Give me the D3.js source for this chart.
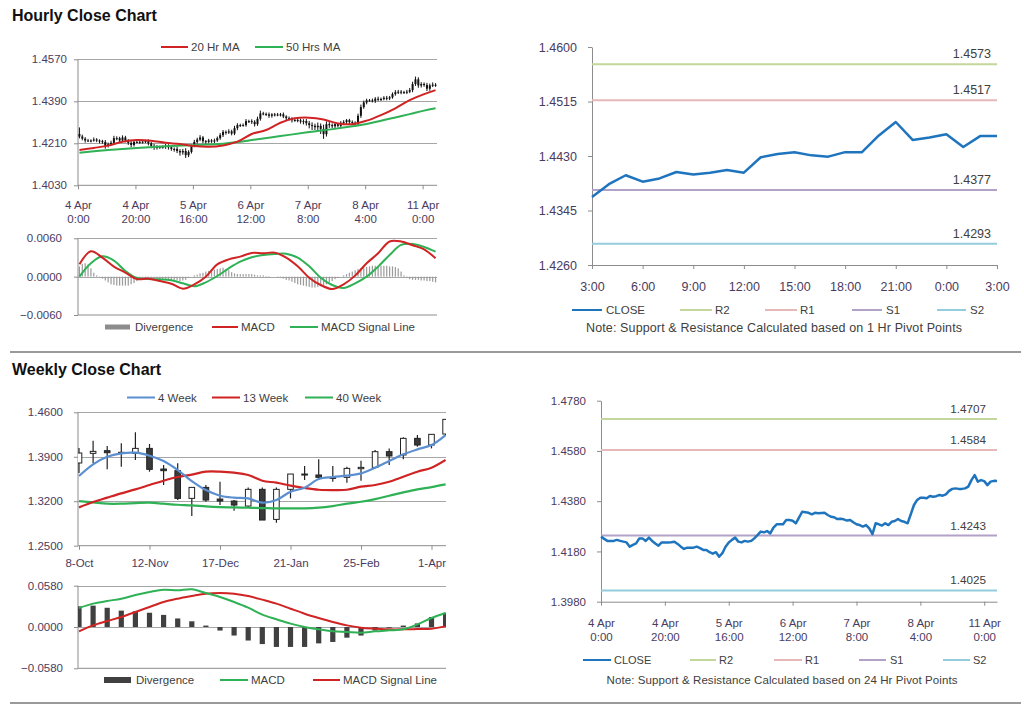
<!DOCTYPE html>
<html><head><meta charset="utf-8">
<script src="https://cdn.jsdelivr.net/npm/d3@7"></script>
<style>
body{margin:0;background:#fff;}
svg{display:block;}
</style></head><body>
<svg id="c" width="1024" height="705"></svg>
<script>
// ---------------- DATA ----------------
// Hourly closes (4 Apr 0:00 ... 11 Apr 4:00), shared by hourly candle chart and 24hr pivot chart
const hourlyClose = [
1.4239,1.4230,1.4222,1.4222,1.4222,1.4226,1.4222,1.4219,1.4216,1.4199,
1.4206,1.4212,1.4232,1.4232,1.4222,1.4235,1.4222,1.4212,1.4203,1.4216,
1.4216,1.4216,1.4217,1.4219,1.4210,1.4199,1.4190,1.4195,1.4195,1.4195,
1.4199,1.4193,1.4186,1.4186,1.4177,1.4171,1.4177,1.4159,1.4173,1.4199,
1.4216,1.4226,1.4235,1.4219,1.4216,1.4222,1.4219,1.4222,1.4232,1.4245,
1.4259,1.4256,1.4261,1.4252,1.4275,1.4288,1.4288,1.4288,1.4305,1.4305,
1.4302,1.4292,1.4315,1.4338,1.4336,1.4334,1.4328,1.4334,1.4332,1.4333,
1.4334,1.4325,1.4318,1.4316,1.4309,1.4310,1.4308,1.4303,1.4305,1.4296,
1.4288,1.4285,1.4279,1.4285,1.4272,1.4249,1.4292,1.4288,1.4283,1.4292,
1.4285,1.4298,1.4301,1.4309,1.4301,1.4298,1.4292,1.4328,1.4365,1.4385,
1.4394,1.4394,1.4392,1.4401,1.4398,1.4400,1.4405,1.4402,1.4407,1.4421,
1.4429,1.4431,1.4429,1.4429,1.4431,1.4438,1.4464,1.4484,1.4458,1.4464,
1.4460,1.4444,1.4458,1.4461,1.4460];
const hourlyFirstOpen = 1.4250;
// wick extensions beyond candle body, in pips
const hourlyHighPips = [28,8,6,7,5,9,6,5,6,8,7,9,10,8,6,9,7,6,8,5,6,5,7,6,8,6,9,7,5,6,8,7,9,6,10,8,9,12,7,6,9,8,10,6,5,7,6,8,7,9,8,6,9,7,10,8,6,7,9,6,8,7,9,12,7,6,8,5,6,7,6,8,5,7,6,9,6,7,8,9,10,12,9,14,10,18,12,9,7,8,6,7,8,5,6,7,6,9,11,8,7,6,8,7,9,6,7,8,6,7,9,8,7,6,8,9,10,12,9,8,7,9,8,10,7];
const hourlyLowPips = [8,7,9,6,8,5,7,9,8,12,7,6,8,9,7,6,8,9,10,7,6,8,7,6,9,10,8,7,9,8,9,10,8,12,9,14,10,12,8,7,6,8,7,9,8,6,7,8,6,7,8,9,6,8,7,9,8,6,7,8,9,10,7,8,6,7,9,8,7,6,8,7,9,8,10,7,8,9,12,10,14,18,12,15,22,20,10,12,9,8,7,9,8,10,9,8,7,8,9,7,8,6,7,9,8,7,6,8,7,6,7,8,9,7,8,6,9,8,10,9,8,10,9,7,8];
const hourTickIdx = [0,20,40,60,80,100,120];
const hourTickDay = ["4 Apr","4 Apr","5 Apr","6 Apr","7 Apr","8 Apr","11 Apr"];
const hourTickTime = ["0:00","20:00","16:00","12:00","8:00","4:00","0:00"];

// Moving averages (sampled hours)
const maIdx = [0,5,10,15,20,25,30,35,40,45,50,55,60,65,70,75,80,85,90,95,100,105,110,115,120,124];
const ma20 = [1.4181,1.4190,1.4200,1.4217,1.4224,1.4221,1.4212,1.4207,1.4198,1.4195,1.4201,1.4217,1.4250,1.4267,1.4298,1.4317,1.4320,1.4312,1.4295,1.4292,1.4307,1.4331,1.4360,1.4395,1.4421,1.4438];
const ma50Idx = [0,10,20,30,40,50,55,60,70,80,90,100,105,110,115,120,124];
const ma50 = [1.4170,1.4181,1.4190,1.4197,1.4202,1.4208,1.4215,1.4224,1.4241,1.4258,1.4274,1.4293,1.4307,1.4321,1.4335,1.4350,1.4360];

// Hourly MACD (every 4 hours)
const macdHIdx = [0,4,8,12,16,20,24,28,32,36,40,44,48,52,56,60,64,68,72,76,80,84,88,92,96,100,104,108,112,116,120,124];
const macdH = [0.00193,0.00397,0.00298,0.00157,0.00063,-0.00037,-0.00031,-0.00068,-0.00110,-0.00188,-0.00120,0.00000,0.00193,0.00271,0.00313,0.00371,0.00365,0.00376,0.00298,0.00162,-0.00016,-0.00131,-0.00193,-0.00120,0.00016,0.00209,0.00365,0.00550,0.00550,0.00491,0.00428,0.00287];
const signalH = [0.00000,0.00209,0.00318,0.00251,0.00089,-0.00021,-0.00037,-0.00042,-0.00057,-0.00104,-0.00151,-0.00089,0.00010,0.00131,0.00235,0.00303,0.00339,0.00355,0.00360,0.00298,0.00162,-0.00016,-0.00131,-0.00177,-0.00104,0.00000,0.00157,0.00339,0.00496,0.00512,0.00465,0.00392];
// hourly divergence, in units of 0.0001
const divergenceH = [16,20,21,19,13,6,2,-1,-3,-6,-9,-12,-13,-14,-14,-14,-14,-14,-12,-10,-7,-4,-2,-2,-2,-3,-3,-3,-4,-4,-4,-5,-5,-5,-6,-7,-6,-5,-2,0,2,3,5,6,8,9,10,11,12,13,14,12,10,7,5,4,4,4,4,4,4,3,2,2,2,1,1,0,0,-1,-2,-3,-5,-6,-8,-10,-12,-13,-14,-15,-16,-17,-17,-16,-15,-13,-12,-9,-7,-4,-2,0,2,4,6,8,10,12,13,14,15,16,17,17,17,17,17,17,16,16,15,13,8,2,-2,-4,-5,-5,-5,-6,-6,-7,-7,-8,-9];

// 1 Hr pivot chart (last 24 hours)
const pivotHourLabels = ["3:00","6:00","9:00","12:00","15:00","18:00","21:00","0:00","3:00"];
const pivotHourClose = [1.4366,1.4386,1.4400,1.4390,1.4395,1.4405,1.4401,1.4404,1.4408,1.4404,1.4428,1.4433,1.4436,1.4431,1.4429,1.4436,1.4436,1.4462,1.4483,1.4455,1.4459,1.4464,1.4444,1.4461,1.4461];
const levels1h = {R2:1.4573, R1:1.4517, S1:1.4377, S2:1.4293};
const levels24h = {R2:1.4707, R1:1.4584, S1:1.4243, S2:1.4025};

// Weekly
const weekTickIdx = [0,5,10,15,20,25];
const weekTickLabels = ["8-Oct","12-Nov","17-Dec","21-Jan","25-Feb","1-Apr"];
const weekOpen  = [1.3802,1.3954,1.3996,1.3970,1.3954,1.4032,1.3707,1.3681,1.3245,1.3418,1.3234,1.3203,1.3124,1.3387,1.2914,1.3387,1.3620,1.3613,1.3576,1.3576,1.3712,1.3733,1.3980,1.3928,1.4190,1.4085,1.4258];
const weekClose = [1.3959,1.3985,1.3964,1.3964,1.4032,1.3702,1.3681,1.3245,1.3418,1.3219,1.3203,1.3140,1.3387,1.2904,1.3387,1.3628,1.3628,1.3576,1.3560,1.3717,1.3733,1.3980,1.3912,1.4190,1.4085,1.4253,1.4489];
const weekHigh  = [1.4038,1.4153,1.4069,1.4111,1.4284,1.4101,1.3770,1.3796,1.3418,1.3455,1.3507,1.3219,1.3418,1.3418,1.3418,1.3628,1.3754,1.3859,1.3754,1.3744,1.3838,1.4006,1.4032,1.4206,1.4242,1.4253,1.4489];
const weekLow   = [1.3644,1.3796,1.3702,1.3744,1.3849,1.3665,1.3455,1.3219,1.2967,1.3193,1.3140,1.3051,1.3103,1.2904,1.2862,1.3245,1.3534,1.3534,1.3508,1.3492,1.3524,1.3717,1.3770,1.3859,1.4059,1.4032,1.4243];
const ma4w  = [1.3597,1.3781,1.3901,1.3954,1.3964,1.3917,1.3833,1.3691,1.3518,1.3376,1.3287,1.3256,1.3245,1.3177,1.3219,1.3350,1.3413,1.3550,1.3581,1.3602,1.3639,1.3728,1.3833,1.3938,1.4017,1.4085,1.4242];
const ma13w = [1.3103,1.3187,1.3256,1.3324,1.3387,1.3455,1.3523,1.3581,1.3618,1.3665,1.3665,1.3649,1.3612,1.3523,1.3492,1.3445,1.3408,1.3381,1.3376,1.3381,1.3429,1.3455,1.3507,1.3586,1.3665,1.3728,1.3849];
const ma40w = [1.3203,1.3182,1.3161,1.3161,1.3171,1.3177,1.3161,1.3145,1.3135,1.3119,1.3108,1.3103,1.3098,1.3093,1.3087,1.3087,1.3087,1.3098,1.3124,1.3161,1.3192,1.3234,1.3287,1.3339,1.3387,1.3423,1.3465];
const divergenceW = [0.029,0.030,0.027,0.023,0.022,0.020,0.017,0.012,0.008,0.002,-0.005,-0.012,-0.019,-0.024,-0.028,-0.028,-0.028,-0.023,-0.021,-0.015,-0.012,-0.005,-0.001,0.002,0.005,0.014,0.020];
const macdW   = [0.0267,0.0328,0.0365,0.0398,0.0449,0.0491,0.0524,0.0515,0.0529,0.0477,0.0421,0.0351,0.0271,0.0173,0.0108,0.0047,0.0000,-0.0033,-0.0061,-0.0070,-0.0080,-0.0061,-0.0047,-0.0033,0.0037,0.0126,0.0197];
const signalW = [-0.0061,0.0023,0.0084,0.0140,0.0211,0.0281,0.0351,0.0398,0.0435,0.0468,0.0477,0.0468,0.0435,0.0384,0.0328,0.0257,0.0187,0.0126,0.0070,0.0023,-0.0009,-0.0023,-0.0033,-0.0033,-0.0028,-0.0023,0.0009];

// ---------------- STYLE ----------------
const FONT = "'Liberation Sans', Arial, sans-serif";
const AX = "#8c8c8c", GRID = "#a6a6a6", LBL = "#4a3b60", TXT = "#404040";
const RED = "#d02323", GREEN = "#2fb155", BLUE = "#5b8fd0", CLOSE = "#1f74be";
const LVL = {R2:"#c3d69b", R1:"#e6b9b8", S1:"#b3a2c7", S2:"#93cddd"};

const svg = d3.select("#c").attr("font-family", FONT);
const fmt4 = d3.format(".4f");

function styleAxis(g, fs) {
  g.attr("font-family", FONT).attr("font-size", fs);
  g.select(".domain").attr("stroke", AX);
  g.selectAll(".tick line").attr("stroke", AX);
  g.selectAll(".tick text").attr("fill", LBL);
}
function yAxis(y, vals, x0, pad, fs, fmt) {
  const g = svg.append("g").attr("transform", `translate(${x0},0)`)
    .call(d3.axisLeft(y).tickValues(vals).tickSize(4).tickSizeOuter(0).tickPadding(pad).tickFormat(fmt || fmt4));
  styleAxis(g, fs);
  return g;
}
function grid(y, vals, x1, x2) {
  svg.append("g").selectAll("line").data(vals).join("line")
    .attr("x1", x1).attr("x2", x2).attr("y1", d => Math.round(y(d)) + 0.5).attr("y2", d => Math.round(y(d)) + 0.5)
    .attr("stroke", GRID).attr("stroke-width", 1.2);
}
function xAxisTwoLine(x, idx, l1, l2, y0, pad, fs, lh) {
  const g = svg.append("g").attr("transform", `translate(0,${y0})`)
    .call(d3.axisBottom(x).tickValues(idx).tickSize(4).tickSizeOuter(0).tickPadding(pad).tickFormat(() => ""));
  styleAxis(g, fs);
  g.selectAll(".tick text").each(function(d, i) {
    const t = d3.select(this);
    t.append("tspan").attr("x", 0).attr("dy", "0.71em").text(l1[i]);
    t.append("tspan").attr("x", 0).attr("dy", lh).text(l2[i]);
  });
  return g;
}
function legendLine(x1, x2, y, color, label, fs, tx) {
  svg.append("line").attr("x1", x1).attr("x2", x2).attr("y1", y).attr("y2", y).attr("stroke", color).attr("stroke-width", 2);
  svg.append("text").attr("x", tx).attr("y", y + fs * 0.36).attr("font-size", fs).attr("fill", TXT).text(label);
}
function clip(id, x, y, w, h) {
  svg.append("clipPath").attr("id", id).append("rect").attr("x", x).attr("y", y).attr("width", w).attr("height", h);
}

// ---------------- TITLES & DIVIDERS ----------------
svg.append("text").attr("x", 12).attr("y", 21).attr("font-size", 16).attr("font-weight", "bold").attr("fill", "#111").text("Hourly Close Chart");
svg.append("text").attr("x", 12).attr("y", 375).attr("font-size", 16).attr("font-weight", "bold").attr("fill", "#111").text("Weekly Close Chart");
[352, 703].forEach(yy => svg.append("line").attr("x1", 10).attr("x2", 1021).attr("y1", yy).attr("y2", yy).attr("stroke", "#9a9a9a").attr("stroke-width", 2));

// ---------------- HOURLY CANDLES (top-left) ----------------
const xH = d3.scaleLinear().domain([-0.5, 124.5]).range([78, 437]);
const yH = d3.scaleLinear().domain([1.4030, 1.4570]).range([185.3, 59.3]);
grid(yH, [1.4570, 1.4390, 1.4210], 78, 437);
yAxis(yH, [1.4030, 1.4210, 1.4390, 1.4570], 78, 7, 11.5).select(".domain").attr("d", `M0,${yH(1.4570)}V${yH(1.4030)}`);
xAxisTwoLine(xH, hourTickIdx.map(i => i - 0.5), hourTickDay, hourTickTime, 185.3, 12, 11.5, 13.5)
  .select(".domain").attr("d", "M78,0H437");
clip("cpH", 78, 59, 359, 127);
const candlesH = hourlyClose.map((c, i) => {
  const o = i === 0 ? hourlyFirstOpen : hourlyClose[i - 1];
  return {i, o, c, h: Math.max(o, c) + hourlyHighPips[i] / 1e4, l: Math.min(o, c) - hourlyLowPips[i] / 1e4};
});
const gH = svg.append("g").attr("clip-path", "url(#cpH)");
gH.selectAll("line.w").data(candlesH).join("line").attr("class", "w")
  .attr("x1", d => xH(d.i)).attr("x2", d => xH(d.i)).attr("y1", d => yH(d.h)).attr("y2", d => yH(d.l))
  .attr("stroke", "#111").attr("stroke-width", 1);
gH.selectAll("rect").data(candlesH).join("rect")
  .attr("x", d => xH(d.i) - 1).attr("width", 2)
  .attr("y", d => yH(Math.max(d.o, d.c))).attr("height", d => Math.max(1, yH(Math.min(d.o, d.c)) - yH(Math.max(d.o, d.c))))
  .attr("fill", "#111");
const lineSmooth = d3.line().curve(d3.curveCatmullRom.alpha(0.5));
gH.append("path").attr("d", lineSmooth(ma50.map((v, k) => [xH(ma50Idx[k]), yH(v)]))).attr("fill", "none").attr("stroke", GREEN).attr("stroke-width", 2);
gH.append("path").attr("d", lineSmooth(ma20.map((v, k) => [xH(maIdx[k]), yH(v)]))).attr("fill", "none").attr("stroke", RED).attr("stroke-width", 2);
legendLine(161, 188, 47, RED, "20 Hr MA", 11.5, 191);
legendLine(255, 283, 47, GREEN, "50 Hrs MA", 11.5, 286);

// ---------------- HOURLY MACD ----------------
const yM = d3.scaleLinear().domain([-0.006, 0.006]).range([315, 238.3]);
grid(yM, [0.006, 0], 78, 437);
const gMy = yAxis(yM, [-0.006, 0, 0.006], 78, 12, 11.5);
gMy.select(".domain").attr("d", `M0,${yM(0.006)}V${yM(-0.006)}`);
svg.append("line").attr("x1", 78).attr("x2", 437).attr("y1", yM(-0.006)).attr("y2", yM(-0.006)).attr("stroke", AX);
svg.append("g").selectAll("rect").data(divergenceH.map(v => v / 1e4)).join("rect")
  .attr("x", (d, i) => xH(i) - 0.6).attr("width", 1.2)
  .attr("y", d => Math.min(yM(d), yM(0))).attr("height", d => Math.abs(yM(d) - yM(0)))
  .attr("fill", "#9a9a9a");
svg.append("path").attr("d", lineSmooth(signalH.map((v, k) => [xH(macdHIdx[k]), yM(v)]))).attr("fill", "none").attr("stroke", GREEN).attr("stroke-width", 2);
svg.append("path").attr("d", lineSmooth(macdH.map((v, k) => [xH(macdHIdx[k]), yM(v)]))).attr("fill", "none").attr("stroke", RED).attr("stroke-width", 2);
svg.append("rect").attr("x", 105).attr("y", 324.5).attr("width", 25).attr("height", 5).attr("fill", "#8c8c8c");
svg.append("text").attr("x", 135).attr("y", 331).attr("font-size", 11.5).attr("fill", TXT).text("Divergence");
legendLine(212, 238, 327, RED, "MACD", 11.5, 241);
legendLine(290, 318, 327, GREEN, "MACD Signal Line", 11.5, 321);

// ---------------- 1 HR PIVOT (top-right) ----------------
const xP = d3.scaleLinear().domain([0, 24]).range([592, 997]);
const yP = d3.scaleLinear().domain([1.4260, 1.4600]).range([265, 47]);
yAxis(yP, [1.4260, 1.4345, 1.4430, 1.4515, 1.4600], 592, 11, 12.5);
const gPx = svg.append("g").attr("transform", "translate(0,265)")
  .call(d3.axisBottom(xP).tickValues(d3.range(0, 25, 3)).tickSize(4).tickSizeOuter(0).tickPadding(13)
  .tickFormat((d, i) => pivotHourLabels[i]));
styleAxis(gPx, 12.5);
Object.keys(levels1h).forEach(k => {
  svg.append("line").attr("x1", 592).attr("x2", 997).attr("y1", yP(levels1h[k])).attr("y2", yP(levels1h[k])).attr("stroke", LVL[k]).attr("stroke-width", 2);
  svg.append("text").attr("x", 991).attr("y", yP(levels1h[k]) - 6).attr("text-anchor", "end").attr("font-size", 12.5).attr("fill", TXT).text(fmt4(levels1h[k]));
});
svg.append("path").attr("d", d3.line()(pivotHourClose.map((v, i) => [xP(i), yP(v)]))).attr("fill", "none").attr("stroke", CLOSE).attr("stroke-width", 2.5).attr("stroke-linejoin", "round");
legendLine(572, 602, 310, CLOSE, "CLOSE", 11.5, 606);
legendLine(680, 712, 310, LVL.R2, "R2", 11.5, 715);
legendLine(765, 797, 310, LVL.R1, "R1", 11.5, 800);
legendLine(852, 882, 310, LVL.S1, "S1", 11.5, 886);
legendLine(937, 966, 310, LVL.S2, "S2", 11.5, 970);
svg.append("text").attr("x", 774).attr("y", 332).attr("text-anchor", "middle").attr("font-size", 12.5).attr("fill", TXT)
  .attr("textLength", 376).attr("lengthAdjust", "spacing")
  .text("Note: Support & Resistance Calculated based on 1 Hr Pivot Points");

// ---------------- WEEKLY CANDLES ----------------
const xW = d3.scaleLinear().domain([0, 25]).range([79, 431.5]);
const yW = d3.scaleLinear().domain([1.2500, 1.4600]).range([545.7, 412.3]);
grid(yW, [1.4600, 1.3900, 1.3200], 78, 446);
yAxis(yW, [1.2500, 1.3200, 1.3900, 1.4600], 78, 11, 11.5).select(".domain").attr("d", `M0,${yW(1.46)}V${yW(1.25)}`);
const gWx = svg.append("g").attr("transform", "translate(0,545.7)")
  .call(d3.axisBottom(xW).tickValues(weekTickIdx).tickSize(4).tickSizeOuter(0).tickPadding(9).tickFormat((d, i) => weekTickLabels[i]));
styleAxis(gWx, 11.5);
gWx.select(".domain").attr("d", "M78,0H446");
clip("cpW", 78, 405, 368, 145);
const candlesW = weekClose.map((c, i) => ({i, o: weekOpen[i], c, h: weekHigh[i], l: weekLow[i]}));
const gW = svg.append("g").attr("clip-path", "url(#cpW)");
gW.selectAll("line").data(candlesW).join("line")
  .attr("x1", d => xW(d.i)).attr("x2", d => xW(d.i)).attr("y1", d => yW(d.h)).attr("y2", d => yW(d.l))
  .attr("stroke", "#222").attr("stroke-width", 1.2);
gW.selectAll("rect").data(candlesW).join("rect")
  .attr("x", d => xW(d.i) - 2.8).attr("width", 5.6)
  .attr("y", d => yW(Math.max(d.o, d.c))).attr("height", d => Math.max(1, yW(Math.min(d.o, d.c)) - yW(Math.max(d.o, d.c))))
  .attr("fill", d => d.c >= d.o ? "#fff" : "#3a3a3a").attr("stroke", "#222").attr("stroke-width", 1);
[[ma40w, GREEN], [ma13w, RED], [ma4w, BLUE]].forEach(([arr, col]) => {
  gW.append("path").attr("d", lineSmooth(arr.map((v, i) => [xW(i), yW(v)]))).attr("fill", "none").attr("stroke", col).attr("stroke-width", 2.2);
});
legendLine(127, 155, 397.5, BLUE, "4 Week", 11.5, 158);
legendLine(212, 240, 397.5, RED, "13 Week", 11.5, 243);
legendLine(305, 333, 397.5, GREEN, "40 Week", 11.5, 336);

// ---------------- WEEKLY MACD ----------------
const yWM = d3.scaleLinear().domain([-0.058, 0.058]).range([668.3, 585.7]);
grid(yWM, [0.058, 0], 78, 446);
yAxis(yWM, [-0.058, 0, 0.058], 78, 11, 11.5).select(".domain").attr("d", `M0,${yWM(0.058)}V${yWM(-0.058)}`);
svg.append("line").attr("x1", 78).attr("x2", 446).attr("y1", yWM(-0.058)).attr("y2", yWM(-0.058)).attr("stroke", AX);
clip("cpWM", 78, 580, 368, 92);
const gWM = svg.append("g").attr("clip-path", "url(#cpWM)");
gWM.selectAll("rect").data(divergenceW).join("rect")
  .attr("x", (d, i) => xW(i) - 2.6).attr("width", 5.2)
  .attr("y", d => Math.min(yWM(d), yWM(0))).attr("height", d => Math.abs(yWM(d) - yWM(0)))
  .attr("fill", "#404040");
gWM.append("path").attr("d", lineSmooth(signalW.map((v, i) => [xW(i), yWM(v)]))).attr("fill", "none").attr("stroke", RED).attr("stroke-width", 2);
gWM.append("path").attr("d", lineSmooth(macdW.map((v, i) => [xW(i), yWM(v)]))).attr("fill", "none").attr("stroke", GREEN).attr("stroke-width", 2);
svg.append("rect").attr("x", 104).attr("y", 677).attr("width", 27).attr("height", 6).attr("fill", "#404040");
svg.append("text").attr("x", 136).attr("y", 684).attr("font-size", 11.5).attr("fill", TXT).text("Divergence");
legendLine(220, 248, 680, GREEN, "MACD", 11.5, 251);
legendLine(313, 340, 680, RED, "MACD Signal Line", 11.5, 343);

// ---------------- 24 HR PIVOT (bottom-right) ----------------
const xD = d3.scaleLinear().domain([0, 124]).range([601, 997]);
const yD = d3.scaleLinear().domain([1.3980, 1.4780]).range([601.7, 400.7]);
yAxis(yD, [1.3980, 1.4180, 1.4380, 1.4580, 1.4780], 601, 11, 11.5);
xAxisTwoLine(xD, hourTickIdx, hourTickDay, hourTickTime, 601.7, 13, 11.5, 14);
Object.keys(levels24h).forEach(k => {
  svg.append("line").attr("x1", 601).attr("x2", 997).attr("y1", yD(levels24h[k])).attr("y2", yD(levels24h[k])).attr("stroke", LVL[k]).attr("stroke-width", 2);
  svg.append("text").attr("x", 986).attr("y", yD(levels24h[k]) - 6).attr("text-anchor", "end").attr("font-size", 11.7).attr("fill", TXT).text(fmt4(levels24h[k]));
});
svg.append("path").attr("d", d3.line()(hourlyClose.map((v, i) => [xD(i), yD(v)]))).attr("fill", "none").attr("stroke", CLOSE).attr("stroke-width", 2.5).attr("stroke-linejoin", "round");
legendLine(583, 611, 660, CLOSE, "CLOSE", 11, 614);
legendLine(690, 716, 660, LVL.R2, "R2", 11, 719);
legendLine(774, 802, 660, LVL.R1, "R1", 11, 805);
legendLine(859, 886, 660, LVL.S1, "S1", 11, 890);
legendLine(943, 970, 660, LVL.S2, "S2", 11, 973);
svg.append("text").attr("x", 782).attr("y", 684).attr("text-anchor", "middle").attr("font-size", 11.5).attr("fill", TXT)
  .attr("textLength", 351).attr("lengthAdjust", "spacing")
  .text("Note: Support & Resistance Calculated based on 24 Hr Pivot Points");
</script>
</body></html>
